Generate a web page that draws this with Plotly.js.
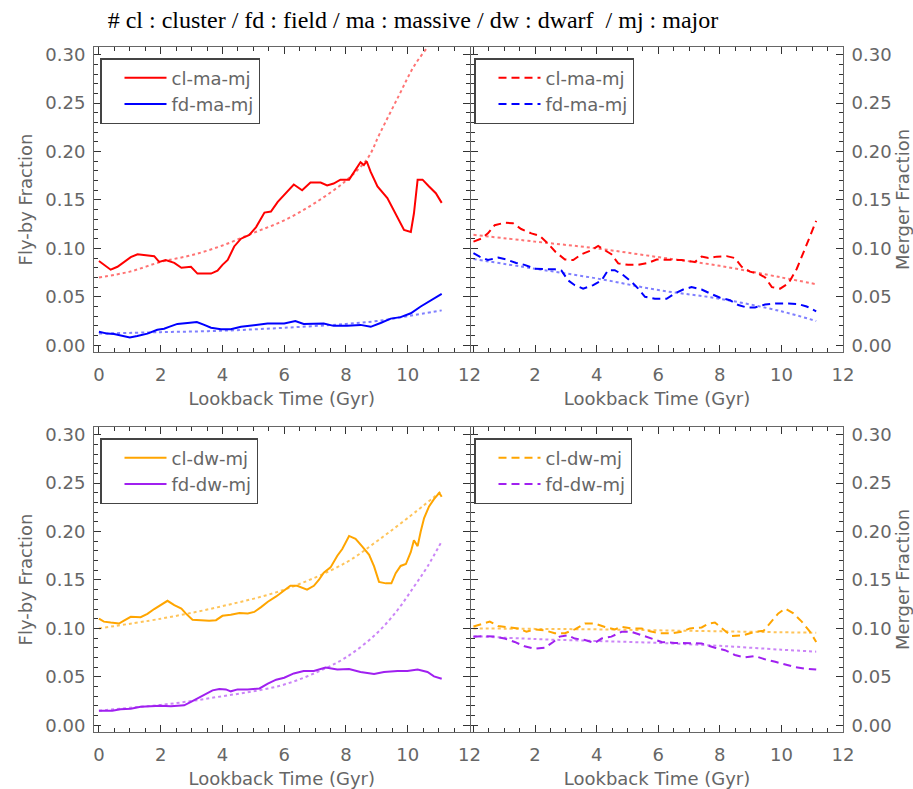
<!DOCTYPE html>
<html>
<head>
<meta charset="utf-8">
<script src="https://cdn.plot.ly/plotly-3.0.1.min.js"></script>
<style>
  html, body { margin: 0; padding: 0; background: #fff; }
  #chart { width: 913px; height: 789px; }
</style>
</head>
<body>
<div id="chart"></div>
<script>
// ---------- DATA ----------
// Top-left: fly-by fraction, massive
const tClMaFly = [0,0.16,0.38,0.6,0.81,1.03,1.25,1.46,1.79,1.95,2.16,2.44,2.67,2.98,3.19,3.63,3.84,4.0,4.17,4.38,4.6,4.87,5.09,5.36,5.57,5.79,6.0,6.31,6.58,6.85,7.18,7.39,7.6,7.82,8.1,8.26,8.47,8.58,8.67,8.8,9.02,9.34,9.61,9.88,10.1,10.2,10.32,10.48,10.69,10.91,11.1];
const clMaFly  = [0.087,0.083,0.078,0.081,0.086,0.091,0.094,0.093,0.092,0.086,0.088,0.085,0.080,0.081,0.074,0.074,0.077,0.083,0.088,0.102,0.110,0.114,0.122,0.137,0.138,0.148,0.155,0.166,0.160,0.168,0.168,0.165,0.167,0.171,0.171,0.179,0.189,0.186,0.190,0.179,0.164,0.152,0.136,0.119,0.117,0.136,0.171,0.171,0.164,0.157,0.147];
const tClMaFlyFit = [0,1,2,3,4,5,6,7,8,8.7,9.1,9.7,10.2,10.8,11.1];
const clMaFlyFit  = [0.070,0.076,0.086,0.093,0.103,0.116,0.129,0.147,0.170,0.193,0.219,0.257,0.288,0.315,0.330];
const tFdMaFly = [0,0.27,0.49,0.76,1.0,1.24,1.57,1.89,2.11,2.27,2.54,2.87,3.17,3.41,3.63,3.95,4.27,4.6,5.03,5.46,6.0,6.36,6.63,6.96,7.28,7.6,8.04,8.47,8.8,9.12,9.45,9.77,10.1,10.42,10.75,11.1];
const fdMaFly  = [0.014,0.012,0.0115,0.0095,0.008,0.0095,0.012,0.016,0.017,0.019,0.022,0.023,0.024,0.021,0.018,0.0165,0.0165,0.019,0.021,0.0225,0.0225,0.025,0.022,0.022,0.0225,0.020,0.020,0.021,0.019,0.023,0.0275,0.029,0.033,0.040,0.0465,0.053];
const tFdMaFlyFit = [0,2,4,6,8,9,10,11.1];
const fdMaFlyFit  = [0.012,0.0135,0.015,0.018,0.022,0.025,0.030,0.036];

// Top-right: merger fraction, massive
const tClMaMrg = [0,0.25,0.47,0.69,1.01,1.28,1.55,1.88,2.15,2.42,2.66,2.97,3.24,3.51,3.78,4.05,4.27,4.48,4.7,5.02,5.35,5.67,5.95,6.33,6.76,7.19,7.41,7.63,7.9,8.22,8.49,8.71,8.98,9.25,9.47,9.69,9.96,10.23,10.5,10.77,10.99,11.13];
const clMaMrg  = [0.107,0.110,0.1155,0.124,0.1265,0.126,0.120,0.1155,0.113,0.105,0.0965,0.0885,0.088,0.094,0.0975,0.1025,0.098,0.094,0.0845,0.083,0.083,0.085,0.0885,0.088,0.088,0.086,0.0915,0.090,0.0915,0.092,0.090,0.081,0.076,0.074,0.070,0.060,0.0585,0.064,0.079,0.100,0.117,0.1285];
const tClMaMrgFit = [0,2,4,6,8,10,11.13];
const clMaMrgFit  = [0.114,0.107,0.100,0.091,0.082,0.070,0.063];
const tFdMaMrg = [0,0.2,0.47,0.8,1.07,1.39,1.66,1.99,2.32,2.64,2.86,3.07,3.29,3.56,3.89,4.16,4.37,4.59,4.86,5.13,5.35,5.57,5.89,6.27,6.54,6.81,7.08,7.41,7.68,8.01,8.33,8.6,8.87,9.14,9.47,9.8,10.23,10.55,10.82,11.13];
const fdMaMrg  = [0.095,0.0915,0.088,0.0905,0.0885,0.085,0.083,0.079,0.0785,0.0785,0.077,0.067,0.062,0.0585,0.062,0.067,0.0775,0.0775,0.0725,0.0655,0.0585,0.050,0.048,0.048,0.0535,0.0575,0.060,0.0575,0.0535,0.049,0.0465,0.0415,0.039,0.039,0.042,0.043,0.043,0.0425,0.040,0.035];
const tFdMaMrgFit = [0,2,4,6,8,10,11.13];
const fdMaMrgFit  = [0.089,0.079,0.069,0.057,0.048,0.035,0.025];

// Bottom-left: fly-by fraction, dwarf
const tClDwFly = [0,0.16,0.38,0.65,0.81,1.03,1.35,1.57,1.79,2.0,2.22,2.44,2.67,2.81,3.03,3.3,3.57,3.79,4.0,4.27,4.55,4.82,5.03,5.25,5.47,5.74,5.98,6.2,6.42,6.74,6.96,7.12,7.28,7.5,7.72,7.88,8.1,8.31,8.53,8.75,8.91,9.07,9.29,9.47,9.61,9.77,9.94,10.1,10.2,10.32,10.42,10.53,10.69,10.85,11.02,11.1];
const clDwFly  = [0.110,0.107,0.106,0.105,0.108,0.112,0.1115,0.115,0.120,0.124,0.1285,0.124,0.1205,0.1155,0.109,0.1085,0.108,0.1085,0.113,0.114,0.116,0.1155,0.117,0.122,0.1275,0.133,0.139,0.144,0.144,0.140,0.144,0.150,0.1575,0.163,0.175,0.182,0.1955,0.1925,0.1845,0.176,0.164,0.148,0.1465,0.1465,0.157,0.1645,0.1665,0.179,0.191,0.185,0.200,0.214,0.226,0.2335,0.240,0.236];
const tClDwFlyFit = [0,2,4,6,8,9,10,11.1];
const clDwFlyFit  = [0.100,0.110,0.123,0.140,0.168,0.190,0.214,0.242];
const tFdDwFly = [0,0.43,0.7,1.03,1.35,1.68,2.0,2.33,2.76,2.98,3.19,3.46,3.68,3.9,4.11,4.27,4.49,4.82,5.2,5.47,5.74,6.0,6.31,6.63,6.96,7.34,7.72,8.1,8.47,8.91,9.23,9.67,9.99,10.32,10.64,10.85,11.1];
const fdDwFly  = [0.015,0.015,0.0165,0.017,0.019,0.0195,0.020,0.0195,0.0205,0.024,0.0275,0.032,0.036,0.0375,0.037,0.035,0.037,0.037,0.038,0.043,0.047,0.049,0.0535,0.056,0.056,0.0595,0.0575,0.058,0.055,0.053,0.055,0.056,0.056,0.0575,0.055,0.0505,0.048];
const tFdDwFlyFit = [0,1,2,3,4,5,6,7,8,9,9.67,10.2,10.64,11.1];
const fdDwFlyFit  = [0.015,0.018,0.021,0.025,0.030,0.035,0.042,0.054,0.070,0.095,0.119,0.143,0.164,0.190];

// Bottom-right: merger fraction, dwarf
const tClDwMrg = [0,0.31,0.53,0.8,1.12,1.45,1.72,1.99,2.32,2.64,2.97,3.29,3.62,3.94,4.27,4.59,4.81,5.13,5.46,5.73,6.06,6.43,6.76,7.03,7.41,7.63,7.84,8.11,8.38,8.76,9.14,9.42,9.69,9.9,10.12,10.39,10.66,10.93,11.13];
const clDwMrg  = [0.102,0.105,0.107,0.1025,0.101,0.100,0.0965,0.099,0.098,0.095,0.095,0.099,0.105,0.105,0.1015,0.099,0.1015,0.100,0.100,0.097,0.095,0.095,0.0965,0.100,0.101,0.105,0.106,0.099,0.092,0.093,0.0965,0.0975,0.107,0.1155,0.1205,0.1155,0.107,0.0965,0.086];
const tClDwMrgFit = [0,2,4,6,8,10,11.13];
const clDwMrgFit  = [0.100,0.0995,0.099,0.098,0.097,0.096,0.0955];
const tFdDwMrg = [0,0.36,0.69,1.01,1.34,1.66,1.99,2.32,2.59,2.8,3.07,3.29,3.62,3.94,4.16,4.48,4.81,5.13,5.46,5.78,6.11,6.54,6.98,7.41,7.84,8.17,8.49,8.82,9.14,9.47,9.8,10.12,10.45,10.77,11.13];
const fdDwMrg  = [0.0915,0.092,0.0915,0.0895,0.086,0.0815,0.079,0.080,0.086,0.0915,0.093,0.0895,0.088,0.085,0.0895,0.0915,0.0965,0.0965,0.093,0.0895,0.086,0.085,0.085,0.0845,0.080,0.0775,0.0725,0.070,0.0715,0.068,0.0655,0.063,0.060,0.0585,0.0575];
const tFdDwMrgFit = [0,2,4,6,8,10,11.13];
const fdDwMrgFit  = [0.092,0.089,0.087,0.085,0.082,0.078,0.076];

const names = ['cl-ma-mj','fd-ma-mj','cl-dw-mj','fd-dw-mj'];
const xTickVals = [0,2,4,6,8,10,12];
const xTickTextRight = ['','2','4','6','8','10','12'];
const titleText = '# cl : cluster / fd : field / ma : massive / dw : dwarf  / mj : major';
const xTitle = 'Lookback Time (Gyr)';
const yTitleL = 'Fly-by Fraction';
const yTitleR = 'Merger Fraction';

// ---------- STYLE ----------
const RED = '#ff0000', BLUE = '#0000ff', ORANGE = '#ffa500', PURPLE = '#a020f0';
const fitColor = {};
fitColor[RED] = 'rgba(255,0,0,0.55)';
fitColor[BLUE] = 'rgba(0,0,255,0.5)';
fitColor[ORANGE] = 'rgba(255,165,0,0.65)';
fitColor[PURPLE] = 'rgba(160,32,240,0.55)';
const FONT = 'DejaVu Sans, Verdana, sans-serif';
const TXT = '#666';

function main(x, y, name, color, dash, xa, ya, leg) {
  return {x: x, y: y, type: 'scatter', mode: 'lines', name: name,
    line: {color: color, width: 2, dash: dash}, xaxis: xa, yaxis: ya,
    legend: leg, showlegend: true, hoverinfo: 'skip'};
}
function fit(x, y, color, xa, ya) {
  return {x: x, y: y, type: 'scatter', mode: 'lines', showlegend: false,
    line: {color: fitColor[color], width: 2, dash: 'dot', shape: 'spline'},
    xaxis: xa, yaxis: ya, hoverinfo: 'skip'};
}
const DASH = '8px,5px';

const traces = [
  fit(tClMaFlyFit, clMaFlyFit, RED, 'x', 'y'),
  fit(tFdMaFlyFit, fdMaFlyFit, BLUE, 'x', 'y'),
  main(tClMaFly, clMaFly, names[0], RED, 'solid', 'x', 'y', 'legend'),
  main(tFdMaFly, fdMaFly, names[1], BLUE, 'solid', 'x', 'y', 'legend'),

  fit(tClMaMrgFit, clMaMrgFit, RED, 'x2', 'y2'),
  fit(tFdMaMrgFit, fdMaMrgFit, BLUE, 'x2', 'y2'),
  main(tClMaMrg, clMaMrg, names[0], RED, DASH, 'x2', 'y2', 'legend2'),
  main(tFdMaMrg, fdMaMrg, names[1], BLUE, DASH, 'x2', 'y2', 'legend2'),

  fit(tClDwFlyFit, clDwFlyFit, ORANGE, 'x3', 'y3'),
  fit(tFdDwFlyFit, fdDwFlyFit, PURPLE, 'x3', 'y3'),
  main(tClDwFly, clDwFly, names[2], ORANGE, 'solid', 'x3', 'y3', 'legend3'),
  main(tFdDwFly, fdDwFly, names[3], PURPLE, 'solid', 'x3', 'y3', 'legend3'),

  fit(tClDwMrgFit, clDwMrgFit, ORANGE, 'x4', 'y4'),
  fit(tFdDwMrgFit, fdDwMrgFit, PURPLE, 'x4', 'y4'),
  main(tClDwMrg, clDwMrg, names[2], ORANGE, DASH, 'x4', 'y4', 'legend4'),
  main(tFdDwMrg, fdDwMrg, names[3], PURPLE, DASH, 'x4', 'y4', 'legend4')
];

// geometry (plot area 94..843 x 47..732)
const W = 913, H = 789, ML = 94, MR = 70, MT = 47, MB = 57;
const PW = W - ML - MR, PH = H - MT - MB;
const px = v => (v - ML) / PW;
const py = v => (H - MB - v) / PH;

const tickFont = {family: FONT, size: 18, color: TXT};
function xax(domain, range, anchor, right) {
  const a = {domain: domain, range: range, anchor: anchor,
    showline: true, linecolor: '#666', linewidth: 1, mirror: 'ticks',
    ticks: 'inside', ticklen: 7, tickwidth: 1, tickcolor: '#333',
    tickmode: 'array', tickvals: xTickVals,
    ticktext: right ? xTickTextRight : xTickVals.map(String),
    minor: {ticks: 'inside', tickmode: 'linear', tick0: 0, dtick: 0.5, ticklen: 4, tickcolor: '#333', showgrid: false},
    showgrid: false, zeroline: false, tickfont: tickFont, ticklabelstandoff: 6,
    title: {text: xTitle, font: {family: FONT, size: 18, color: TXT}, standoff: 8},
    automargin: false, fixedrange: true};
  return a;
}
function yax(domain, anchor, side) {
  return {domain: domain, range: [-0.007, 0.308], anchor: anchor, side: side,
    showline: true, linecolor: '#666', linewidth: 1, mirror: 'ticks',
    ticks: 'inside', ticklen: 7, tickwidth: 1, tickcolor: '#333',
    tick0: 0, dtick: 0.05, tickformat: '.2f',
    minor: {ticks: 'inside', tick0: 0, dtick: 0.01, ticklen: 4, tickcolor: '#333', showgrid: false},
    showgrid: false, zeroline: false, tickfont: tickFont, ticklabelstandoff: 4,
    title: {text: side === 'left' ? yTitleL : yTitleR, font: {family: FONT, size: 18, color: TXT}, standoff: 8},
    automargin: false, fixedrange: true};
}

const dxL = [0, px(469.5)], dxR = [px(471), 1];
const dyT = [py(352), 1], dyB = [0, py(427)];

function leg(xp, yp) {
  return {x: px(xp), y: py(yp), xanchor: 'left', yanchor: 'top', xref: 'paper', yref: 'paper',
    bgcolor: '#fff', bordercolor: '#444', borderwidth: 1.5,
    font: {family: FONT, size: 18, color: TXT}, itemwidth: 42, indentation: 18,
    traceorder: 'normal', itemclick: false, itemdoubleclick: false};
}

const layout = {
  width: W, height: H,
  margin: {l: ML, r: MR, t: MT, b: MB, pad: 0},
  paper_bgcolor: '#fff', plot_bgcolor: '#fff',
  showlegend: true,
  title: {text: titleText, font: {family: 'Liberation Serif, Times New Roman, serif', size: 24, color: '#000'},
    x: 413 / W, xref: 'container', xanchor: 'center', y: 1 - 20 / H, yref: 'container', yanchor: 'middle'},
  xaxis: xax(dxL, [-0.16, 12.0], 'y', false),
  yaxis: yax(dyT, 'x', 'left'),
  xaxis2: xax(dxR, [-0.08, 12.0], 'y2', true),
  yaxis2: yax(dyT, 'x2', 'right'),
  xaxis3: xax(dxL, [-0.16, 12.0], 'y3', false),
  yaxis3: yax(dyB, 'x3', 'left'),
  xaxis4: xax(dxR, [-0.08, 12.0], 'y4', true),
  yaxis4: yax(dyB, 'x4', 'right'),
  legend: leg(100, 58),
  legend2: leg(474, 58),
  legend3: leg(100, 438),
  legend4: leg(474, 438)
};

Plotly.newPlot('chart', traces, layout, {displayModeBar: false, staticPlot: true});
</script>
</body>
</html>
